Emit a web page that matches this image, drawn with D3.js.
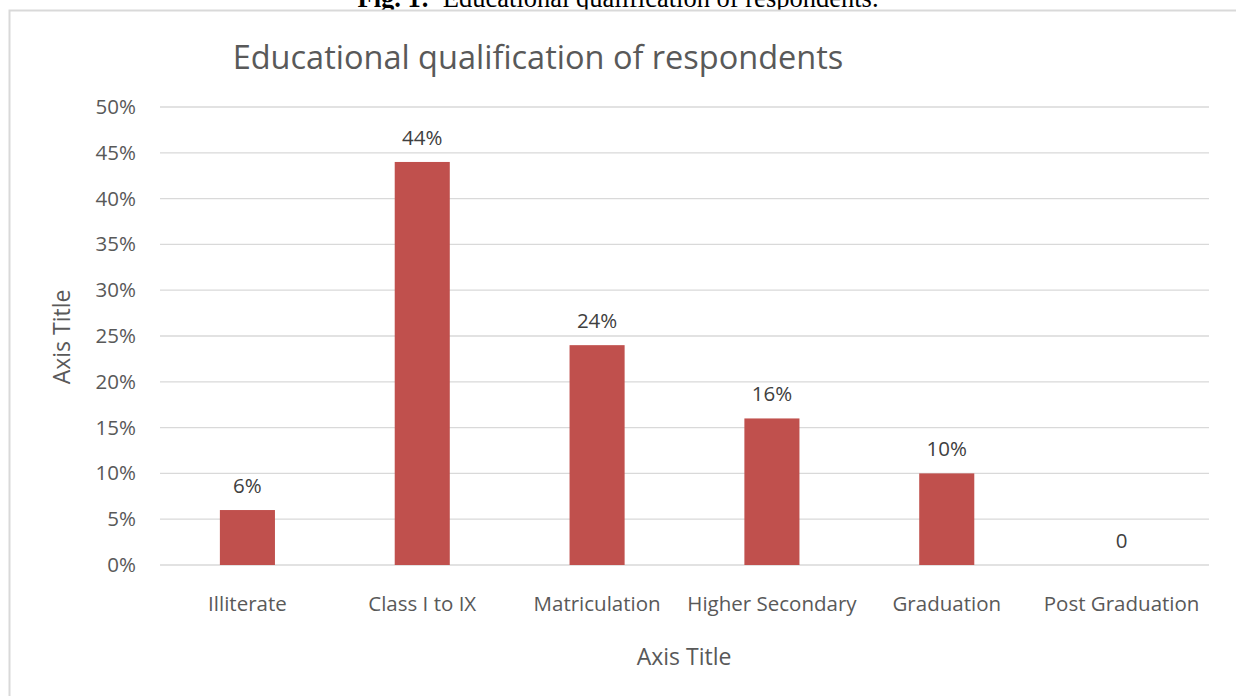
<!DOCTYPE html>
<html><head><meta charset="utf-8">
<script src="https://cdn.jsdelivr.net/npm/d3@7"></script>
<style>body{margin:0;background:#fff;}svg{display:block;}</style>
</head><body>
<script>
const categories = ["Illiterate","Class I to IX","Matriculation","Higher Secondary","Graduation","Post Graduation"];
const values = [0.06,0.44,0.24,0.16,0.10,0];
const valueLabels = ["6%","44%","24%","16%","10%","0"];
const yTicks = [0,0.05,0.10,0.15,0.20,0.25,0.30,0.35,0.40,0.45,0.50];

const W=1236,H=696;
const svg=d3.select("body").append("svg").attr("width",W).attr("height",H);
const font="'Open Sans', Carlito, sans-serif";
const grey="#595959";

// caption
const cap=svg.append("text").attr("x",618).attr("y",7).attr("text-anchor","middle")
  .attr("font-family","'Liberation Serif', 'Times New Roman', serif").attr("font-size",26.5).attr("fill","#000")
  .attr("xml:space","preserve");
cap.append("tspan").attr("font-weight","bold").text("Fig. 1:");
cap.append("tspan").text("\u00a0 Educational qualification of respondents.");

// frame
svg.append("rect").attr("x",9.5).attr("y",10.5).attr("width",1240).attr("height",700)
  .attr("fill","#fff").attr("stroke","#d9d9d9").attr("stroke-width",2);

const x=d3.scaleBand().domain(categories).range([160,1209]).paddingInner(0.685).paddingOuter(0.3425);
const y=d3.scaleLinear().domain([0,0.5]).range([565,107]);

// gridlines
svg.append("g").selectAll("line").data(yTicks).join("line")
  .attr("x1",160).attr("x2",1209).attr("y1",d=>y(d)).attr("y2",d=>y(d))
  .attr("stroke","#d9d9d9").attr("stroke-width",1.3);

// y axis
const ya=svg.append("g").attr("transform","translate(160,0)")
  .call(d3.axisLeft(y).tickValues(yTicks).tickFormat(d3.format(".0%")).tickSize(0).tickPadding(24));
ya.select(".domain").remove();
ya.selectAll("text").attr("font-family",font).attr("font-size",20.5).attr("fill",grey);

// x axis
const xa=svg.append("g").attr("transform","translate(0,565)")
  .call(d3.axisBottom(x).tickSize(0).tickPadding(31));
xa.select(".domain").remove();
xa.selectAll("text").attr("font-family",font).attr("font-size",20.5).attr("fill",grey);

// bars
svg.append("g").selectAll("rect").data(values).join("rect")
  .attr("x",(d,i)=>x(categories[i])).attr("width",x.bandwidth())
  .attr("y",d=>y(d)).attr("height",d=>y(0)-y(d)).attr("fill","#C0504D");

// labels
svg.append("g").selectAll("text").data(values).join("text")
  .attr("x",(d,i)=>x(categories[i])+x.bandwidth()/2)
  .attr("y",d=>y(d)-17).attr("text-anchor","middle")
  .attr("font-family",font).attr("font-size",20.5).attr("fill","#404040")
  .text((d,i)=>valueLabels[i]);

// title
svg.append("text").attr("x",538).attr("y",69).attr("text-anchor","middle")
  .attr("font-family",font).attr("font-size",32.5).attr("fill",grey)
  .text("Educational qualification of respondents");

// axis titles
svg.append("text").attr("x",684).attr("y",665).attr("text-anchor","middle")
  .attr("font-family",font).attr("font-size",23).attr("fill",grey).text("Axis Title");
svg.append("text").attr("transform","translate(70,337) rotate(-90)").attr("text-anchor","middle")
  .attr("font-family",font).attr("font-size",23).attr("fill",grey).text("Axis Title");
</script>
</body></html>
